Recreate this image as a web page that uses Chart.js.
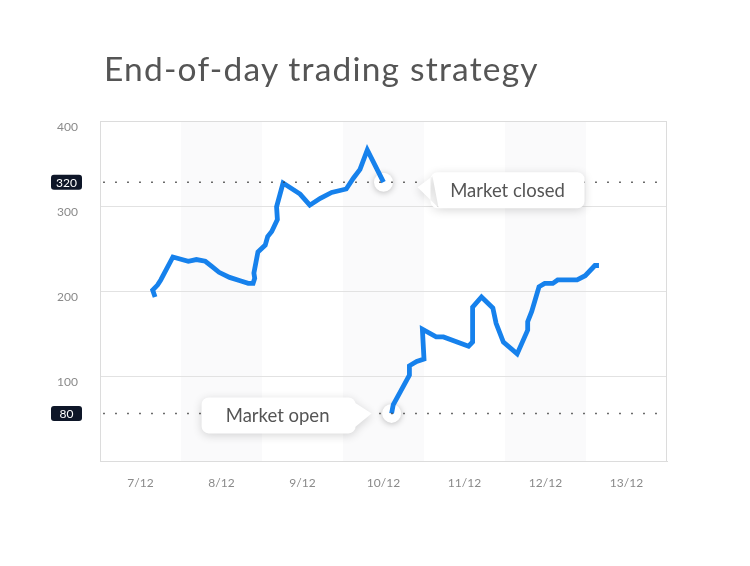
<!DOCTYPE html>
<html>
<head>
<meta charset="utf-8">
<script src="https://cdn.jsdelivr.net/npm/chart.js@4"></script>
<style>
  html, body { margin: 0; padding: 0; background: #fff; }
  #wrap { position: relative; width: 750px; height: 566px; }
  #chart { position: absolute; left: 0; top: 0; }
  #title { position: absolute; left: 104px; top: 52px; margin: 0; font: 400 33.5px Lato, sans-serif; line-height: 1; letter-spacing: 1.2px; color: #555; }
</style>
</head>
<body>
<div id="wrap">
  <canvas id="chart" width="750" height="566"></canvas>
  <h1 id="title">End-of-day trading strategy</h1>
</div>
<script>
// ---- data ----
const days = ['7/12', '8/12', '9/12', '10/12', '11/12', '12/12', '13/12'];
const shadedDays = [1, 3, 5];
const yTicks = [100, 200, 300, 400];

// first run, up to the close (x = days after 7/12)
const closeRunX = [0.18, 0.15, 0.21, 0.25, 0.40, 0.59, 0.69, 0.80, 0.88, 0.97, 1.10, 1.23, 1.33, 1.39, 1.41, 1.40, 1.45, 1.54, 1.57, 1.62, 1.69, 1.68, 1.76, 1.97, 2.09, 2.22, 2.36, 2.54, 2.63, 2.71, 2.80, 3.00];
const closeRunY = [193, 201, 207, 213, 240, 235, 237, 235, 229, 222, 216, 212, 209, 209, 215, 221, 246, 254, 264, 270, 284, 299, 327, 314, 301, 309, 316, 320, 333, 343, 366, 328];

// second run, from the open
const openRunX = [3.10, 3.12, 3.32, 3.32, 3.41, 3.50, 3.48, 3.65, 3.74, 4.05, 4.10, 4.10, 4.21, 4.35, 4.39, 4.48, 4.65, 4.78, 4.78, 4.83, 4.92, 4.99, 5.09, 5.15, 5.39, 5.49, 5.61, 5.66];
const openRunY = [56, 66, 101, 112, 117, 120, 155, 146, 146, 135, 140, 181, 193, 180, 162, 140, 126, 154, 164, 176, 205, 209, 209, 213, 213, 218, 230, 230];

const markerX = [3.0, 3.1];
const markerY = [328, 56];
const markerText = ['Market closed', 'Market open'];

const refLevels = [328, 56];
const refLabels = ['320', '80'];

const FONT = 'Lato, "Open Sans", sans-serif';
const toPts = (xs, ys) => xs.map((x, i) => ({ x, y: ys[i] }));

// light bands behind every other day + frame around the plot
const bandsPlugin = {
  id: 'bands',
  beforeDraw(chart) {
    const { ctx, chartArea: a, scales: { x } } = chart;
    ctx.save();
    ctx.fillStyle = '#fafafb';
    shadedDays.forEach(i => {
      const l = x.getPixelForValue(i - 0.5), r = x.getPixelForValue(i + 0.5);
      ctx.fillRect(l, a.top, r - l, a.bottom - a.top);
    });
    ctx.restore();
  },
  afterDraw(chart) {
    const { ctx, chartArea: a } = chart;
    ctx.save();
    ctx.strokeStyle = '#dcdcdc';
    ctx.lineWidth = 1;
    ctx.strokeRect(a.left + 0.5, a.top + 0.5, a.right - a.left - 1, a.bottom - a.top);
    ctx.restore();
  }
};

// soft shadow under the white marker rings
const shadowPlugin = {
  id: 'markerShadow',
  beforeDatasetDraw(chart, args) {
    if (chart.data.datasets[args.index].ring) {
      chart.ctx.save();
      chart.ctx.shadowColor = 'rgba(0,0,0,0.25)';
      chart.ctx.shadowBlur = 6;
      chart.ctx.shadowOffsetY = 1;
    }
  },
  afterDatasetDraw(chart, args) {
    if (chart.data.datasets[args.index].ring) chart.ctx.restore();
  }
};

function roundRect(ctx, x, y, w, h, r) {
  ctx.moveTo(x + r, y);
  ctx.arcTo(x + w, y, x + w, y + h, r);
  ctx.arcTo(x + w, y + h, x, y + h, r);
  ctx.arcTo(x, y + h, x, y, r);
  ctx.arcTo(x, y, x + w, y, r);
  ctx.closePath();
}

// callout bubbles next to the markers, badges on the y axis
const calloutPlugin = {
  id: 'callouts',
  afterDatasetsDraw(chart) {
    const { ctx, scales: { x, y } } = chart;
    const W = 154, H = 36;
    markerText.forEach((txt, i) => {
      const px = x.getPixelForValue(markerX[i]);
      const py = y.getPixelForValue(markerY[i]);
      let left, top;
      ctx.save();
      ctx.shadowColor = 'rgba(0,0,0,0.16)';
      ctx.shadowBlur = 10;
      ctx.shadowOffsetY = 2;
      ctx.fillStyle = '#fff';
      ctx.beginPath();
      if (i === 0) {
        left = px + 47; top = py - 10;
        roundRect(ctx, left, top, W, H, 7);
        ctx.moveTo(left + 2, top + 4);
        ctx.lineTo(left - 13, top + 15);
        ctx.lineTo(left + 8, top + H - 0.5);
        ctx.closePath();
      } else {
        left = px - 36 - W; top = py - 16;
        roundRect(ctx, left, top, W, H, 7);
        ctx.moveTo(left + W - 1, top + 5);
        ctx.lineTo(left + W + 16, top + 16);
        ctx.lineTo(left + W - 1, top + H - 6);
        ctx.closePath();
      }
      ctx.fill();
      ctx.restore();
      ctx.save();
      ctx.fillStyle = '#555';
      ctx.font = '400 18.5px ' + FONT;
      ctx.textAlign = 'center';
      ctx.textBaseline = 'middle';
      ctx.fillText(txt, left + W / 2 + (i === 0 ? 0 : -1), top + H / 2 + 1);
      ctx.restore();
    });

    refLevels.forEach((v, i) => {
      const py = y.getPixelForValue(v);
      ctx.save();
      ctx.fillStyle = '#0e1628';
      ctx.beginPath();
      roundRect(ctx, 51, py - 7.5, 31, 15, 3);
      ctx.fill();
      ctx.fillStyle = '#fff';
      ctx.font = '400 12px ' + FONT;
      ctx.textAlign = 'center';
      ctx.textBaseline = 'middle';
      ctx.fillText(refLabels[i], 66.5, py + 0.5);
      ctx.restore();
    });
  }
};

const lineStyle = {
  borderColor: '#1681ec', borderWidth: 4.8, pointRadius: 0,
  tension: 0, borderJoinStyle: 'miter', borderCapStyle: 'butt', fill: false
};

new Chart(document.getElementById('chart'), {
  type: 'line',
  data: {
    datasets: [
      ...refLevels.map(v => ({
        data: [{ x: -0.46, y: v }, { x: 6.5, y: v }],
        borderColor: '#3b3b3b', borderWidth: 1.5, borderDash: [1.5, 10.5], pointRadius: 0
      })),
      { data: toPts(closeRunX, closeRunY), ...lineStyle },
      { data: toPts(openRunX, openRunY), ...lineStyle },
      { data: toPts(markerX, markerY), ring: true, showLine: false, pointRadius: 9.5, pointBackgroundColor: '#fff', pointBorderWidth: 0 },
      { data: toPts(markerX, markerY), showLine: false, pointRadius: 3.8, pointBackgroundColor: '#2bd89d', pointBorderWidth: 0 }
    ]
  },
  options: {
    responsive: false,
    animation: false,
    layout: { padding: { top: 121, right: 83 } },
    plugins: { legend: { display: false }, tooltip: { enabled: false } },
    scales: {
      x: {
        type: 'linear', min: -0.5, max: 6.5,
        afterBuildTicks: s => { s.ticks = days.map((d, i) => ({ value: i })); },
        afterFit: s => { s.height = 105; },
        ticks: { callback: v => days[v], color: '#8a8a8a', font: { family: FONT, size: 12 }, padding: 15, maxRotation: 0, autoSkip: false },
        grid: { display: false, drawTicks: false },
        border: { color: '#dcdcdc' }
      },
      y: {
        min: 0, max: 400,
        afterBuildTicks: s => { s.ticks = yTicks.map(v => ({ value: v })); },
        afterFit: s => { s.width = 100; },
        ticks: { align: 'start', padding: 22, color: '#8a8a8a', font: { family: FONT, size: 12 } },
        grid: { color: '#e2e2e2', drawTicks: false },
        border: { color: '#dcdcdc' }
      }
    }
  },
  plugins: [bandsPlugin, shadowPlugin, calloutPlugin]
});
</script>
</body>
</html>
